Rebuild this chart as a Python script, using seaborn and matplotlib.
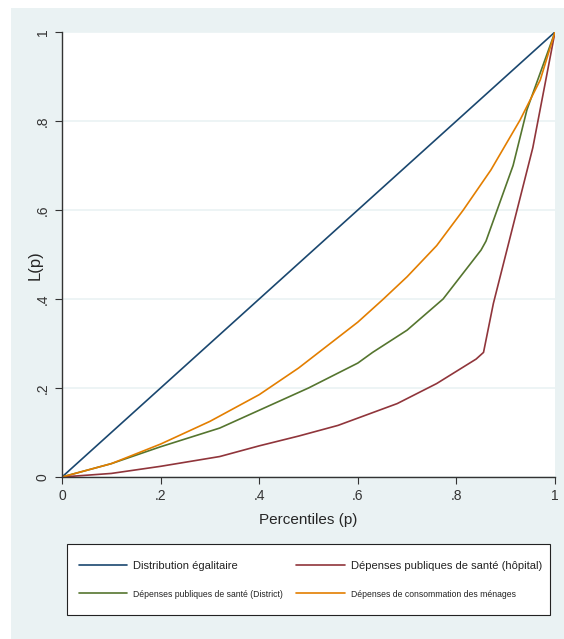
import numpy as np
import pandas as pd
import matplotlib
matplotlib.use("Agg")
import matplotlib.pyplot as plt
import seaborn as sns
from matplotlib.patches import Rectangle

# --- Lorenz curve data ---
p_egal = [0.0, 1.0]
L_egal = [0.0, 1.0]

p_hosp = [0.0, 0.1, 0.2, 0.32, 0.4, 0.48, 0.56, 0.68, 0.76, 0.84, 0.855, 0.875, 0.955, 1.0]
L_hosp = [0.0, 0.008, 0.024, 0.046, 0.07, 0.092, 0.116, 0.165, 0.21, 0.265, 0.28, 0.39, 0.74, 1.0]

p_dist = [0.0, 0.1, 0.2, 0.32, 0.44, 0.5, 0.6, 0.63, 0.7, 0.773, 0.85, 0.86, 0.915, 0.943, 1.0]
L_dist = [0.0, 0.03, 0.068, 0.11, 0.17, 0.2, 0.256, 0.28, 0.33, 0.4, 0.51, 0.53, 0.70, 0.825, 1.0]

p_cons = [0.0, 0.1, 0.2, 0.3, 0.4, 0.48, 0.6, 0.65, 0.7, 0.76, 0.814, 0.87, 0.929, 0.97, 1.0]
L_cons = [0.0, 0.03, 0.074, 0.125, 0.185, 0.245, 0.348, 0.398, 0.45, 0.52, 0.6, 0.69, 0.802, 0.892, 1.0]

labels = ["Distribution égalitaire",
          "Dépenses publiques de santé (District)",
          "Dépenses publiques de santé (hôpital)",
          "Dépenses de consommation des ménages"]
colors = ["#1a476f", "#55752f", "#90353b", "#e37e00"]

df = pd.concat([
    pd.DataFrame({"p": p_egal, "L": L_egal, "serie": labels[0]}),
    pd.DataFrame({"p": p_dist, "L": L_dist, "serie": labels[1]}),
    pd.DataFrame({"p": p_hosp, "L": L_hosp, "serie": labels[2]}),
    pd.DataFrame({"p": p_cons, "L": L_cons, "serie": labels[3]}),
])

sns.set_style("white")
plt.rcParams["font.family"] = ["Liberation Sans", "DejaVu Sans"]

fig = plt.figure(figsize=(5.64, 6.39), dpi=100)
fig.patch.set_facecolor("white")
# light stata-like background panel
fig.patches.append(Rectangle((11 / 564, 0), 1, 1 - 8 / 639, transform=fig.transFigure,
                             facecolor="#eaf2f3", edgecolor="none", zorder=-10))

ax = fig.add_axes([62 / 564, 1 - 477 / 639, 493 / 564, 445 / 639])
ax.set_facecolor("white")

sns.lineplot(data=df, x="p", y="L", hue="serie", hue_order=labels,
             palette=colors, linewidth=1.2, sort=False, estimator=None, ax=ax)

ax.set_xlim(0, 1)
ax.set_ylim(0, 1)
ticks = [0, 0.2, 0.4, 0.6, 0.8, 1.0]
tick_lbl = ["0", ".2", ".4", ".6", ".8", "1"]
ax.set_xticks(ticks)
ax.set_xticklabels(tick_lbl, fontsize=10, color="#333333")
ax.set_yticks(ticks)
ax.set_yticklabels(tick_lbl, fontsize=10, color="#333333", rotation=90, va="center")
ax.tick_params(axis="both", direction="out", length=5, width=0.8, color="#333333",
               left=True, bottom=True, pad=4)
ax.grid(axis="y", color="#eaf2f3", linewidth=1.2)
ax.set_axisbelow(True)
for s in ["top", "right"]:
    ax.spines[s].set_visible(False)
for s in ["left", "bottom"]:
    ax.spines[s].set_color("#333333")
    ax.spines[s].set_linewidth(1.0)

ax.set_xlabel("Percentiles (p)", fontsize=11, va="center")
ax.set_ylabel("L(p)", fontsize=12, va="center")
ax.xaxis.set_label_coords(0.5, -0.097)
ax.yaxis.set_label_coords(-0.055, 0.476)

# --- legend inside a box placed in figure pixels ---
handles, _ = ax.get_legend_handles_labels()
ax.get_legend().remove()
fig.patches.append(Rectangle((67 / 564, 1 - 615 / 639), 483 / 564, 71 / 639,
                             transform=fig.transFigure, facecolor="white",
                             edgecolor="#222222", linewidth=0.8, zorder=1))
leg = fig.legend(handles, labels, ncol=2, loc="center left",
                 bbox_to_anchor=(73 / 564, 1 - 580 / 639), frameon=False,
                 prop={"size": 8.0}, handlelength=4.4, handletextpad=0.5,
                 labelspacing=1.6, columnspacing=1.2, borderpad=0.0)
for i, t in enumerate(leg.get_texts()):
    t.set_fontsize(8.0 if i in (0, 2) else 6.2)
    t.set_color("#222222")

fig.savefig("out.png", dpi=100)
